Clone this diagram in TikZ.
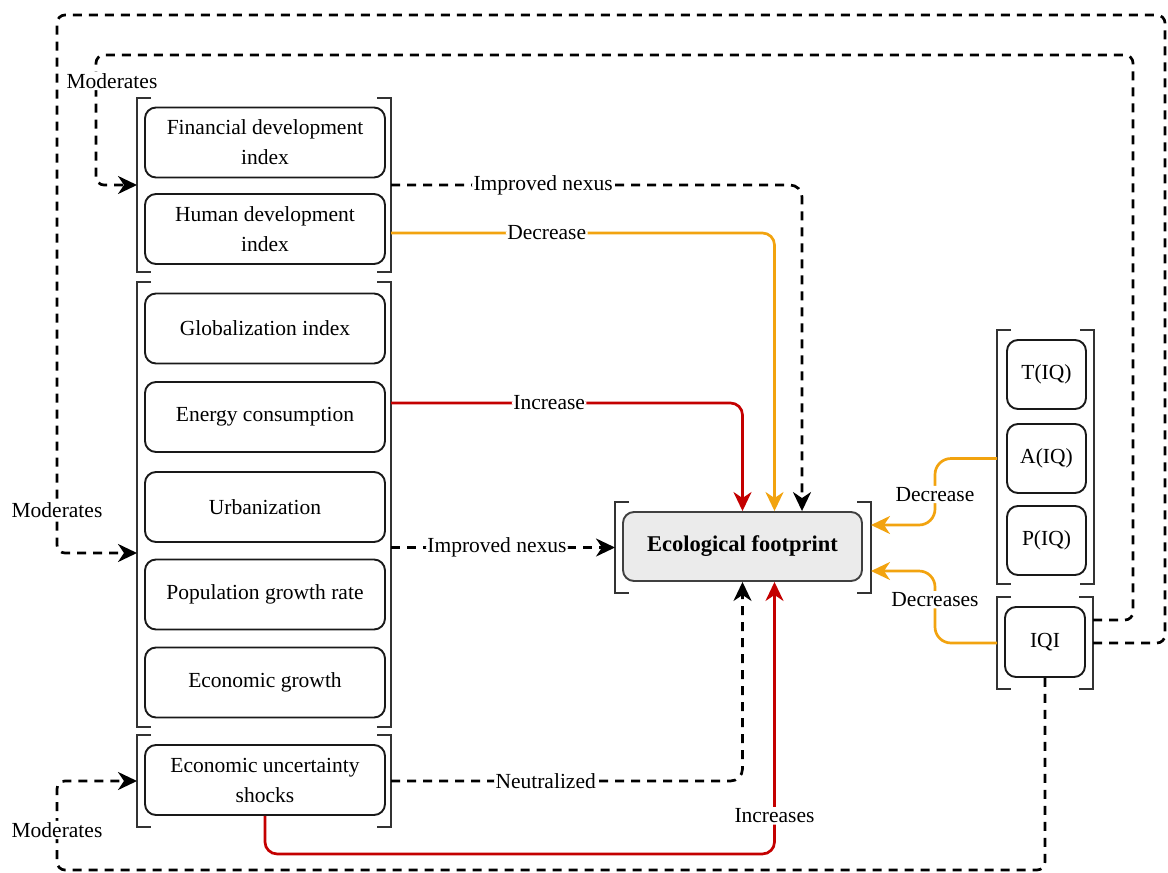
\documentclass[tikz,border=0pt]{standalone}
\usepackage{fontspec}
\setmainfont{Liberation Serif}
\usetikzlibrary{arrows.meta,calc}
\definecolor{myorange}{HTML}{F2A30F}
\definecolor{myred}{HTML}{C40000}
\definecolor{ecofill}{HTML}{EBEBEB}
\definecolor{brkcol}{HTML}{333333}
\newcommand{\lbl}{\fontsize{21.5}{30}\selectfont}
\begin{document}
\begin{tikzpicture}[x=1pt,y=-1pt,
  box/.style={draw=black!90, line width=1.9pt, rounded corners=11pt, align=center, inner sep=2pt, minimum height=70pt, font=\lbl},
  lbox/.style={box, minimum width=240pt},
  rbox/.style={box, minimum width=80pt, minimum height=69pt},
  grp/.style={inner sep=0pt, outer sep=0pt},
  brk/.style={draw=brkcol, line width=2.2pt},
  tip/.style={-{Stealth[length=19pt,width=18pt,inset=6pt]}},
  conn/.style={line width=2.7pt, rounded corners=12pt},
  dconn/.style={conn, black, dash pattern=on 9pt off 7pt, tip},
  oconn/.style={conn, myorange, tip},
  rconn/.style={conn, myred, tip},
  elbl/.style={font=\lbl, fill=white, text=black, inner sep=1.5pt}
]
\useasboundingbox (0,0) rectangle (1168,873);

% group nodes (bracketed)
\node[grp, minimum width=254pt, minimum height=174pt] (gtop) at (264,185) {};
\node[grp, minimum width=254pt, minimum height=445pt] (gmid) at (264,504.5) {};
\node[grp, minimum width=254pt, minimum height=92pt] (gbot) at (264,781) {};
\node[grp, minimum width=256pt, minimum height=91pt] (geco) at (743,547.5) {};
\node[grp, minimum width=97pt, minimum height=254pt] (giq) at (1045.5,457) {};
\node[grp, minimum width=96pt, minimum height=92pt] (giqi) at (1045,643) {};

\foreach \g in {gtop,gmid,gbot,geco,giq,giqi}{
  \draw[brk] ([xshift=14pt]\g.north west) -- (\g.north west) -- (\g.south west) -- ([xshift=14pt]\g.south west);
  \draw[brk] ([xshift=-14pt]\g.north east) -- (\g.north east) -- (\g.south east) -- ([xshift=-14pt]\g.south east);
}

% boxes
\node[lbox] (fd) at (265,142.5) {Financial development\\index};
\node[lbox] (hd) at (265,229) {Human development\\index};
\node[lbox] (gl) at (265,328.5) {Globalization index};
\node[lbox] (en) at (265,417) {Energy consumption};
\node[lbox] (ur) at (265,507) {Urbanization};
\node[lbox] (po) at (265,594.5) {Population growth rate};
\node[lbox] (eg) at (265,682.5) {Economic growth};
\node[lbox] (eu) at (265,780) {Economic uncertainty\\shocks};

\node[box, fill=ecofill, draw=black!75, minimum width=239pt, minimum height=69pt, font=\fontsize{22.5}{30}\selectfont\bfseries] (eco) at (742.5,546.5) {Ecological footprint};

\node[rbox, minimum width=79pt] (tiq) at (1046.5,374.5) {T(IQ)};
\node[rbox, minimum width=79pt] (aiq) at (1046.5,458.5) {A(IQ)};
\node[rbox, minimum width=79pt] (piq) at (1046.5,540.5) {P(IQ)};
\node[rbox, minimum height=70pt] (iqi) at (1045,642) {IQI};

% connectors to ecological footprint
\draw[dconn] (gtop.east) -| node[elbl, pos=0.185] {Improved nexus} ([xshift=59.5pt]eco.north);
\draw[oconn] ($(gtop.east |- hd.east)+(0,4)$) -| node[elbl, pos=0.203] {Decrease} ([xshift=32pt]eco.north);
\draw[rconn] ($(gmid.east |- en.east)+(0,-14)$) -| node[elbl, pos=0.225] {Increase} (eco.north);
\draw[dconn] (gmid.east |- geco.west) -- node[elbl, pos=0.473] {Improved nexus} (geco.west);
\draw[dconn] (gbot.east) -| node[elbl, pos=0.22] {Neutralized} (eco.south);
\draw[rconn] (eu.south) -- ++(0,38) -| node[elbl, pos=0.57] {Increases} ([xshift=32pt]eco.south);

% institutional quality connectors
\draw[oconn, rounded corners=16pt] (giq.west |- aiq.west) -- ++(-62,0) |- node[elbl, pos=0.27] {Decrease} ($(geco.east)+(0,-22.5)$);
\draw[oconn, rounded corners=16pt] (giqi.west) -- ++(-62,0) |- node[elbl, pos=0.3] {Decreases} ($(geco.east)+(0,23.5)$);

% moderating loops
\draw[dconn, rounded corners=8pt] ($(giqi.east)+(0,-23)$) -- (1133,620) -- (1133,55) -- (96,55) -- node[elbl, pos=0.2, xshift=16pt] {Moderates} (96,185) -- (gtop.west);
\draw[dconn, rounded corners=8pt] (giqi.east) -- (1165,643) -- (1165,15) -- (57,15) -- node[elbl, pos=0.92] {Moderates} (57,553) -- ($(gmid.west)+(0,48.5)$);
\draw[dconn, rounded corners=8pt] (iqi.south) -- (1045,870) -- (57,870) -- node[elbl, pos=0.45] {Moderates} (57,781) -- (gbot.west);
\end{tikzpicture}
\end{document}
